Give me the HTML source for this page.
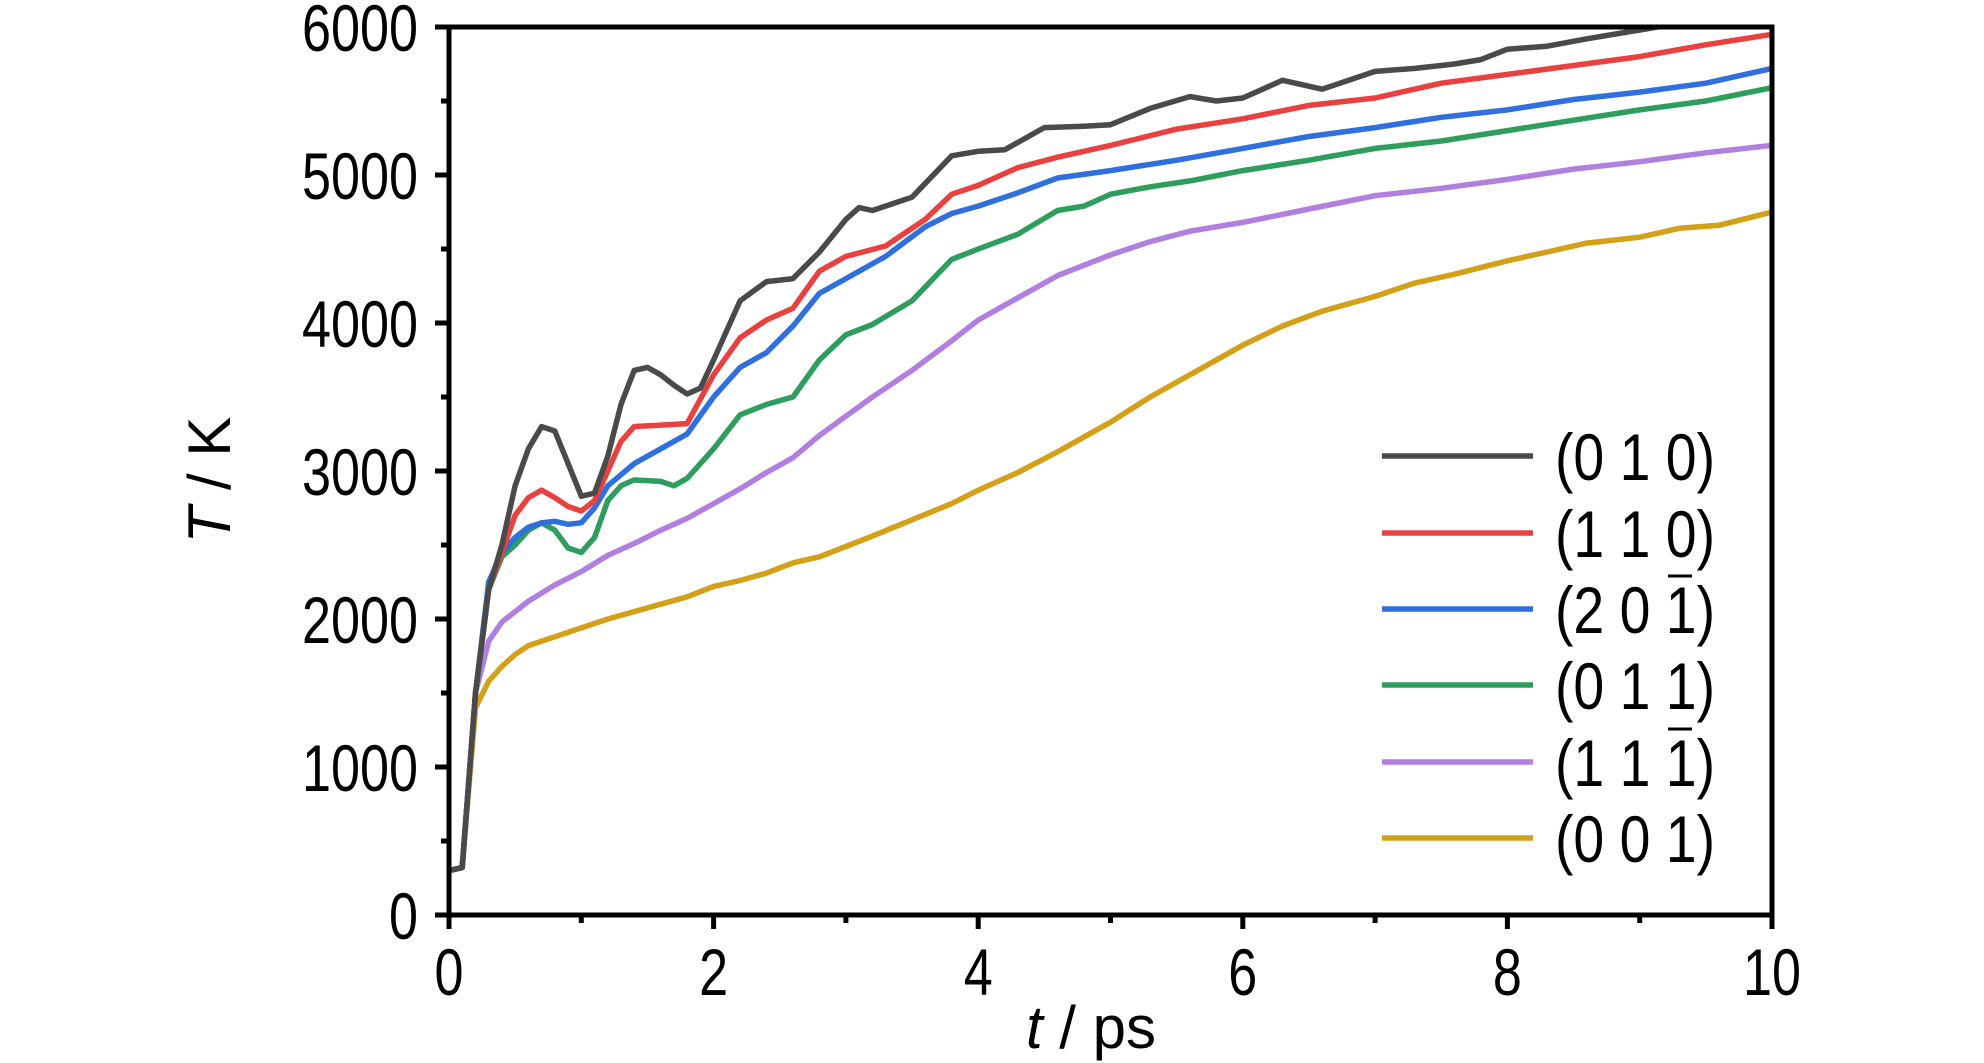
<!DOCTYPE html>
<html><head><meta charset="utf-8"><style>
html,body{margin:0;padding:0;background:#fff;}
svg{display:block;font-family:"Liberation Sans",sans-serif;}
</style></head><body>
<svg id="chart" width="1984" height="1063" viewBox="0 0 1984 1063" xmlns="http://www.w3.org/2000/svg">
<defs><clipPath id="plotclip"><rect x="449" y="27" width="1323" height="888"/></clipPath></defs>
<g id="series" clip-path="url(#plotclip)"></g>
<g id="axes"></g>
<g id="legend"></g>
<text transform="translate(230,480) rotate(-90)" text-anchor="middle" font-size="60"><tspan font-style="italic">T</tspan> / K</text>
<text x="1091" y="1048" text-anchor="middle" font-size="60"><tspan font-style="italic">t</tspan> / ps</text>
</svg>
<script>
const NS="http://www.w3.org/2000/svg";
const seriesNames=["(0 1 0)","(1 1 0)","(2 0 1)","(0 1 1)","(1 1 1)","(0 0 1)"];
const seriesColors=["#4a4a4a","#e8413f","#2f6fde","#2e9e5e","#b07fe0","#d4a017"];
const overbar=[false,false,true,false,true,false];
const t010=[0,0.1,0.2,0.3,0.4,0.5,0.6,0.7,0.8,0.9,1.0,1.1,1.2,1.3,1.4,1.5,1.6,1.7,1.8,1.9,2.0,2.2,2.4,2.6,2.8,3.0,3.1,3.2,3.5,3.8,4.0,4.2,4.5,4.8,5.0,5.3,5.6,5.8,6.0,6.3,6.6,7.0,7.3,7.6,7.8,8.0,8.3,8.6,9.0,9.2,10];
const v010=[300,320,1500,2200,2500,2900,3150,3300,3270,3050,2830,2850,3100,3450,3680,3700,3650,3580,3520,3560,3750,4150,4280,4300,4480,4700,4780,4760,4850,5130,5160,5170,5320,5330,5340,5450,5530,5500,5520,5640,5580,5700,5720,5750,5780,5850,5870,5920,5980,6010,6050];
const t110=[0,0.1,0.2,0.3,0.4,0.5,0.6,0.7,0.8,0.9,1.0,1.1,1.2,1.3,1.4,1.6,1.8,2.0,2.2,2.4,2.6,2.8,3.0,3.3,3.6,3.8,4.0,4.3,4.6,5.0,5.5,6.0,6.5,7.0,7.5,8.0,8.5,9.0,9.5,10];
const v110=[300,320,1500,2200,2450,2700,2820,2870,2820,2760,2730,2800,3000,3200,3300,3310,3320,3650,3900,4020,4100,4350,4450,4520,4700,4870,4930,5050,5120,5200,5310,5380,5470,5520,5620,5680,5740,5800,5880,5950];
const t201=[0,0.1,0.2,0.3,0.4,0.5,0.6,0.7,0.8,0.9,1.0,1.1,1.2,1.4,1.6,1.8,2.0,2.2,2.4,2.6,2.8,3.0,3.3,3.6,3.8,4.0,4.3,4.6,5.0,5.5,6.0,6.5,7.0,7.5,8.0,8.5,9.0,9.5,10];
const v201=[300,320,1500,2250,2450,2550,2620,2650,2660,2640,2650,2750,2900,3050,3150,3250,3500,3700,3800,3980,4200,4300,4450,4650,4740,4790,4880,4980,5030,5100,5180,5260,5320,5390,5440,5510,5560,5620,5720];
const t011=[0,0.1,0.2,0.3,0.4,0.5,0.6,0.7,0.8,0.9,1.0,1.1,1.2,1.3,1.4,1.6,1.7,1.8,2.0,2.2,2.4,2.6,2.8,3.0,3.2,3.5,3.8,4.0,4.3,4.6,4.8,5.0,5.3,5.6,6.0,6.5,7.0,7.5,8.0,8.5,9.0,9.5,10];
const v011=[300,320,1500,2200,2420,2500,2600,2650,2600,2480,2450,2550,2800,2900,2940,2930,2900,2950,3150,3380,3450,3500,3750,3920,3990,4150,4430,4500,4600,4760,4790,4870,4920,4960,5030,5100,5180,5230,5300,5370,5440,5500,5590];
const t111=[0,0.1,0.2,0.3,0.4,0.6,0.8,1.0,1.2,1.4,1.6,1.8,2.0,2.2,2.4,2.6,2.8,3.0,3.2,3.5,3.8,4.0,4.3,4.6,5.0,5.3,5.6,6.0,6.5,7.0,7.5,8.0,8.5,9.0,9.5,10];
const v111=[300,320,1500,1850,1980,2120,2230,2320,2430,2510,2600,2680,2780,2880,2990,3090,3240,3370,3500,3680,3880,4020,4170,4320,4460,4550,4620,4680,4770,4860,4910,4970,5040,5090,5150,5200];
const t001=[0,0.1,0.2,0.3,0.4,0.5,0.6,0.8,1.0,1.2,1.4,1.6,1.8,2.0,2.2,2.4,2.6,2.8,3.0,3.2,3.5,3.8,4.0,4.3,4.6,5.0,5.3,5.6,6.0,6.3,6.6,7.0,7.3,7.6,8.0,8.3,8.6,9.0,9.3,9.6,10];
const v001=[300,320,1400,1580,1680,1760,1820,1880,1940,2000,2050,2100,2150,2220,2260,2310,2380,2420,2490,2560,2670,2780,2870,2990,3130,3330,3500,3650,3850,3980,4080,4180,4270,4330,4420,4480,4540,4580,4640,4660,4750];
const xTicks=[0,2,4,6,8,10];
const yTicks=[0,1000,2000,3000,4000,5000,6000];
const allT=[t010,t110,t201,t011,t111,t001];
const allV=[v010,v110,v201,v011,v111,v001];
const X0=449,X1=1772,Y0=915,Y1=27;
const xs=t=>X0+(t-0)/(10-0)*(X1-X0);
const ys=v=>Y0-(v-0)/(6000-0)*(Y0-Y1);
function mk(tag,attrs,parent){const e=document.createElementNS(NS,tag);for(const k in attrs)e.setAttribute(k,attrs[k]);parent.appendChild(e);return e;}
const sg=document.getElementById('series');
for(let i=5;i>=0;i--){
  const d=allT[i].map((t,j)=>(j?'L':'M')+xs(t).toFixed(1)+' '+ys(allV[i][j]).toFixed(1)).join(' ');
  const p=mk('path',{d:d,fill:'none',stroke:seriesColors[i],'stroke-width':5.5,'stroke-linejoin':'round'},sg);
  
  
}
const ax=document.getElementById('axes');
const frame=mk('rect',{x:X0,y:Y1,width:X1-X0,height:Y0-Y1,fill:'none',stroke:'#000','stroke-width':5},ax);


for(let v=0;v<=6000;v+=500){
  const major=v%1000===0;
  const tk=mk('line',{x1:X0,x2:X0-(major?14:8),y1:ys(v),y2:ys(v),stroke:'#000','stroke-width':5},ax);
  
  
}
yTicks.forEach(v=>{
  const tx=mk('text',{x:418,y:ys(v)+24,'text-anchor':'end','font-size':66,textLength:(String(v).length*29),lengthAdjust:'spacingAndGlyphs'},ax);
  tx.textContent=v;
  
  
});
for(let t=0;t<=10;t+=1){
  const major=t%2===0;
  const tk=mk('line',{x1:xs(t),x2:xs(t),y1:Y0,y2:Y0+(major?14:8),stroke:'#000','stroke-width':5},ax);
  
  
}
xTicks.forEach(t=>{
  const tx=mk('text',{x:xs(t),y:995,'text-anchor':'middle','font-size':66,textLength:(String(t).length*29),lengthAdjust:'spacingAndGlyphs'},ax);
  tx.textContent=t;
  
  
});
const lg=document.getElementById('legend');
const rowY=[456,533,609,685,762,838];
seriesNames.forEach((n,i)=>{
  const ln=mk('line',{x1:1382,x2:1533,y1:rowY[i],y2:rowY[i],stroke:seriesColors[i],'stroke-width':5.5},lg);
  
  
  const tx=mk('text',{x:1555,y:rowY[i]+24,'font-size':66,textLength:160,lengthAdjust:'spacingAndGlyphs'},lg);
  tx.textContent=n;
  
  
  if(overbar[i]){
    const b=mk('line',{x1:1668,x2:1692,y1:rowY[i]-33,y2:rowY[i]-33,stroke:'#000','stroke-width':3},lg);
    
    
  }
});
</script>
</body></html>
